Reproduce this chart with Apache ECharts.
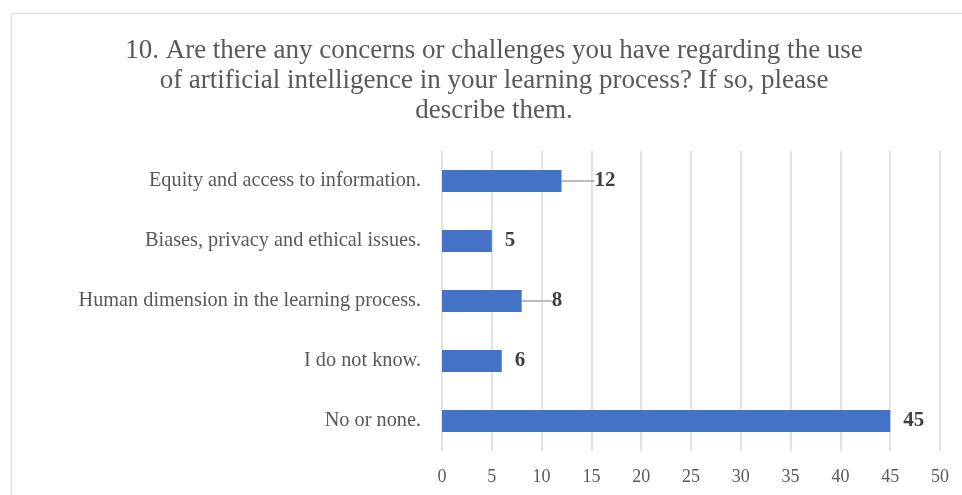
<!DOCTYPE html>
<html>
<head>
<meta charset="utf-8">
<script src="https://cdn.jsdelivr.net/npm/echarts@6/dist/echarts.min.js"></script>
<style>
  html, body { margin: 0; padding: 0; background: #fff; }
  #chart { width: 962px; height: 495px; }
</style>
</head>
<body>
<div id="chart"></div>
<script>
// categories, top to bottom as in the picture
const categories = [
  'Equity and access to information.',
  'Biases, privacy and ethical issues.',
  'Human dimension in the learning process.',
  'I do not know.',
  'No or none.'
];
const counts = [12, 5, 8, 6, 45];
const xTicks = [0, 5, 10, 15, 20, 25, 30, 35, 40, 45, 50];

const titleText = '10. Are there any concerns or challenges you have regarding the use\n' +
  'of artificial intelligence in your learning process? If so, please\n' +
  'describe them.';

// labels that Excel pushed further out (these get a leader line)
const labelNudge = { 0: 11, 2: 8 };

const serif = '"Liberation Serif", "Times New Roman", serif';

const chart = echarts.init(document.getElementById('chart'));

const barData = counts.map((v, i) => {
  if (labelNudge[i] === undefined) return { value: v, labelLine: { show: false } };
  return {
    value: v,
    label: { padding: [0, 0, 0, 9] },
    labelLine: { show: true }
  };
});

chart.setOption({
  animation: false,
  textStyle: { fontFamily: serif },
  title: {
    text: titleText,
    left: 489,
    top: 31,
    textAlign: 'center',
    textStyle: {
      fontFamily: serif,
      fontSize: 27,
      fontWeight: 'normal',
      color: '#595959',
      lineHeight: 30
    }
  },
  graphic: [{
    type: 'rect',
    left: 9,
    top: 11,
    shape: { width: 980, height: 520 },
    style: { fill: 'none', stroke: '#e3e3e3', lineWidth: 1.5 },
    silent: true
  }],
  grid: {
    left: 442,
    right: 22,
    top: 151,
    bottom: 44,
    containLabel: false
  },
  xAxis: {
    type: 'value',
    min: xTicks[0],
    max: xTicks[xTicks.length - 1],
    interval: 5,
    axisLine: { show: false },
    axisTick: { show: false },
    splitLine: { lineStyle: { color: '#d9d9d9', width: 1.5 } },
    axisLabel: {
      fontFamily: serif,
      fontSize: 18,
      color: '#595959',
      margin: 17
    }
  },
  yAxis: {
    type: 'category',
    inverse: true,
    data: categories,
    axisLine: { show: false },
    axisTick: { show: false },
    axisLabel: {
      fontFamily: serif,
      fontSize: 20.3,
      color: '#595959',
      margin: 21
    }
  },
  series: [{
    type: 'bar',
    data: barData,
    barWidth: 22,
    itemStyle: { color: '#4472C4' },
    label: {
      show: true,
      position: 'right',
      distance: 13,
      fontFamily: serif,
      fontSize: 21,
      fontWeight: 'bold',
      color: '#404040'
    },
    labelLine: {
      lineStyle: { color: '#a6a6a6', width: 1.5 }
    },
    labelLayout: function (p) {
      const dx = labelNudge[p.dataIndex];
      return dx ? { dx: dx } : {};
    }
  }]
});
</script>
</body>
</html>
